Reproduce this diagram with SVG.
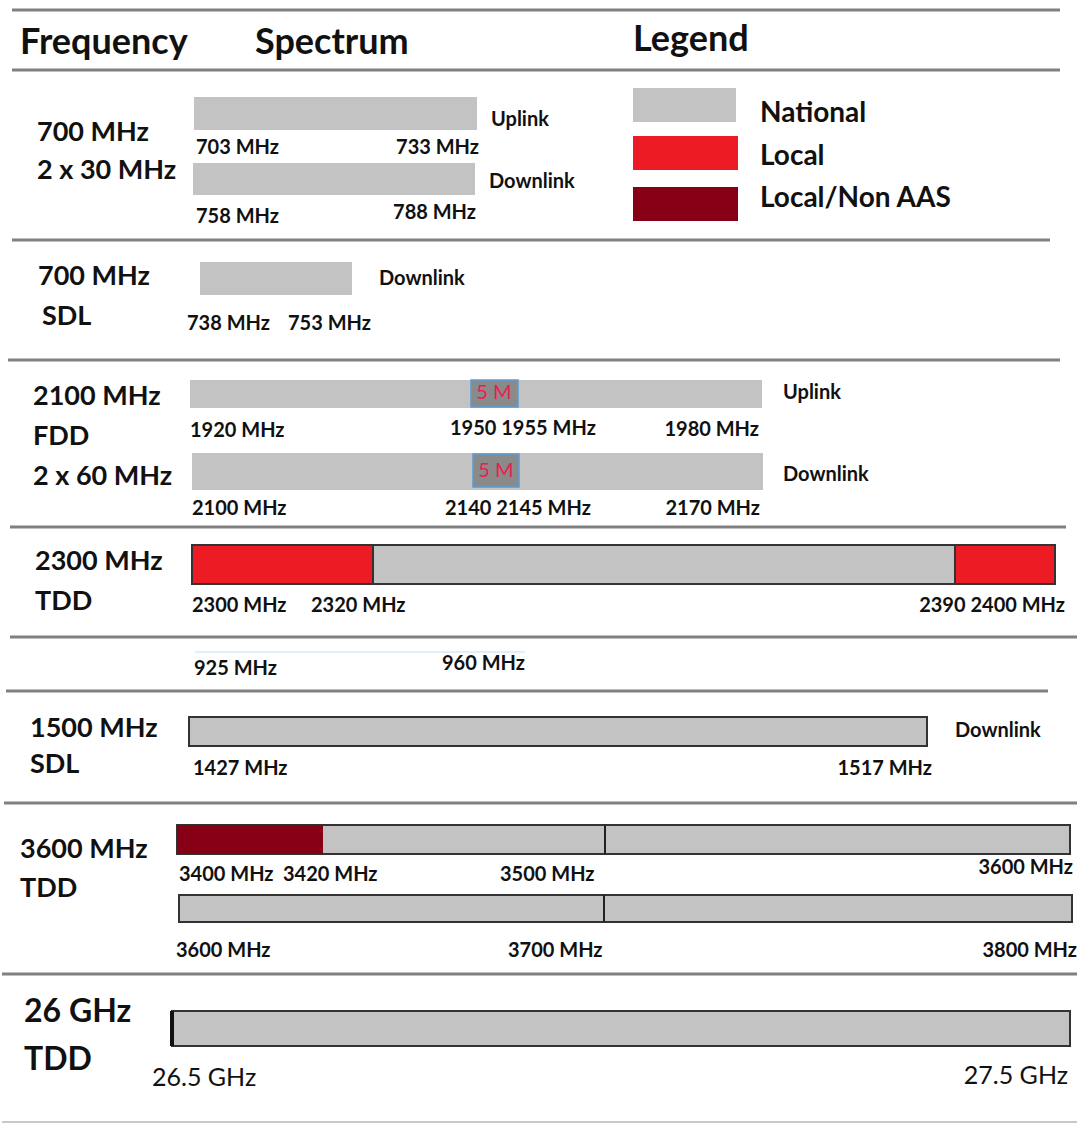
<svg xmlns="http://www.w3.org/2000/svg" width="1077" height="1125" viewBox="0 0 1077 1125">
<style>
text{font-family:Lato,"Open Sans","Liberation Sans",sans-serif;font-weight:bold;fill:#111}
.h{font-size:36px}
.band{font-size:27px}
.big{font-size:32px}
.leg{font-size:28px}
.f{font-size:20px}
.ud{font-size:20px}
.g{font-size:25px;font-weight:normal}
.m{font-size:20px;font-weight:normal;fill:#e8204e}
.sep{stroke:#808080;stroke-width:3;fill:none}
.nat{fill:#c3c3c3}
.natb{fill:#c3c3c3;stroke:#333;stroke-width:2}
.loc{fill:#ed1c24}
.locb{fill:#ed1c24;stroke:#333;stroke-width:2}
.nas{fill:#880015}
.five{fill:#8a8a8a;stroke:#5b9bd5;stroke-width:1.5}
.div{stroke:#222;stroke-width:2}
</style>

<g id="separators">
<line class="sep" x1="12" y1="10" x2="1060" y2="10"/>
<line class="sep" x1="12" y1="70" x2="1060" y2="70"/>
<line class="sep" x1="12" y1="240" x2="1050" y2="240"/>
<line class="sep" x1="8" y1="360" x2="1060" y2="360"/>
<line class="sep" x1="10" y1="527" x2="1066" y2="527"/>
<line class="sep" x1="10" y1="637" x2="1077" y2="637"/>
<line class="sep" x1="6" y1="691" x2="1048" y2="691"/>
<line class="sep" x1="4" y1="803" x2="1077" y2="803"/>
<line class="sep" x1="2" y1="974" x2="1077" y2="974"/>
<line x1="2" y1="1122" x2="1077" y2="1122" stroke="#c8c8c8" stroke-width="2"/>
</g>

<g id="header">
<text class="h" x="20" y="54">Frequency</text>
<text class="h" x="255" y="54">Spectrum</text>
<text class="h" x="633" y="51">Legend</text>
</g>

<g id="legend">
<rect class="nat" x="633" y="88" width="103" height="34"/>
<text class="leg" x="760" y="122">National</text>
<rect class="loc" x="633" y="136" width="105" height="34"/>
<text class="leg" x="760" y="165">Local</text>
<rect class="nas" x="633" y="187" width="105" height="34"/>
<text class="leg" x="760" y="207">Local/Non AAS</text>
</g>

<g id="band-700-fdd">
<text class="band" x="37" y="141">700 MHz</text>
<text class="band" x="37" y="179">2 x 30 MHz</text>
<rect class="nat" x="194" y="97" width="283" height="33"/>
<text class="ud" x="491" y="126">Uplink</text>
<text class="f" x="196" y="154">703 MHz</text>
<text class="f" x="479" y="154" text-anchor="end">733 MHz</text>
<rect class="nat" x="193" y="163" width="282" height="32"/>
<text class="ud" x="489" y="188">Downlink</text>
<text class="f" x="196" y="223">758 MHz</text>
<text class="f" x="476" y="219" text-anchor="end">788 MHz</text>
</g>

<g id="band-700-sdl">
<text class="band" x="38" y="285">700 MHz</text>
<text class="band" x="42" y="325">SDL</text>
<rect class="nat" x="200" y="262" width="152" height="33"/>
<text class="ud" x="379" y="285">Downlink</text>
<text class="f" x="187" y="330">738 MHz</text>
<text class="f" x="288" y="330">753 MHz</text>
</g>

<g id="band-2100">
<text class="band" x="33" y="405">2100 MHz</text>
<text class="band" x="33" y="445">FDD</text>
<text class="band" x="33" y="485">2 x 60 MHz</text>
<rect class="nat" x="190" y="380" width="572" height="28"/>
<rect class="five" x="471" y="380" width="47" height="27"/>
<text class="m" x="494" y="399" text-anchor="middle">5 M</text>
<text class="ud" x="783" y="399">Uplink</text>
<text class="f" x="190" y="437">1920 MHz</text>
<text class="f" x="450" y="435">1950 1955 MHz</text>
<text class="f" x="759" y="436" text-anchor="end">1980 MHz</text>
<rect class="nat" x="192" y="453" width="571" height="37"/>
<rect class="five" x="473" y="454" width="46" height="33"/>
<text class="m" x="496" y="477" text-anchor="middle">5 M</text>
<text class="ud" x="783" y="481">Downlink</text>
<text class="f" x="192" y="515">2100 MHz</text>
<text class="f" x="445" y="515">2140 2145 MHz</text>
<text class="f" x="760" y="515" text-anchor="end">2170 MHz</text>
</g>

<g id="band-2300">
<text class="band" x="35" y="570">2300 MHz</text>
<text class="band" x="35" y="610">TDD</text>
<rect class="natb" x="192" y="545" width="863" height="39"/>
<rect class="locb" x="192" y="545" width="181" height="39"/>
<rect class="locb" x="955" y="545" width="100" height="39"/>
<text class="f" x="192" y="612">2300 MHz</text>
<text class="f" x="311" y="612">2320 MHz</text>
<text class="f" x="1065" y="612" text-anchor="end">2390 2400 MHz</text>
</g>

<g id="band-900">
<line x1="195" y1="652" x2="525" y2="652" stroke="#e3eef6" stroke-width="2"/>
<text class="f" x="194" y="675">925 MHz</text>
<text class="f" x="442" y="670">960 MHz</text>
</g>

<g id="band-1500">
<text class="band" x="30" y="737">1500 MHz</text>
<text class="band" x="30" y="773">SDL</text>
<rect class="natb" x="189" y="717" width="738" height="29"/>
<text class="ud" x="955" y="737">Downlink</text>
<text class="f" x="193" y="775">1427 MHz</text>
<text class="f" x="932" y="775" text-anchor="end">1517 MHz</text>
</g>

<g id="band-3600">
<text class="band" x="20" y="858">3600 MHz</text>
<text class="band" x="20" y="897">TDD</text>
<rect class="natb" x="177" y="825" width="893" height="29"/>
<rect class="nas" x="177" y="825" width="146" height="29"/>
<line class="div" x1="605" y1="825" x2="605" y2="854"/>
<text class="f" x="179" y="881">3400 MHz</text>
<text class="f" x="283" y="881">3420 MHz</text>
<text class="f" x="500" y="881">3500 MHz</text>
<text class="f" x="1073" y="874" text-anchor="end">3600 MHz</text>
<rect class="natb" x="179" y="895" width="893" height="27"/>
<line class="div" x1="604" y1="895" x2="604" y2="922"/>
<text class="f" x="176" y="957">3600 MHz</text>
<text class="f" x="508" y="957">3700 MHz</text>
<text class="f" x="1077" y="957" text-anchor="end">3800 MHz</text>
</g>

<g id="band-26ghz">
<text class="big" x="24" y="1022">26 GHz</text>
<text class="big" x="24" y="1070">TDD</text>
<rect class="natb" x="172" y="1011" width="898" height="35"/>
<line x1="172" y1="1011" x2="172" y2="1046" stroke="#111" stroke-width="4"/>
<text class="g" x="152" y="1086">26.5 GHz</text>
<text class="g" x="1068" y="1084" text-anchor="end">27.5 GHz</text>
</g>
</svg>
